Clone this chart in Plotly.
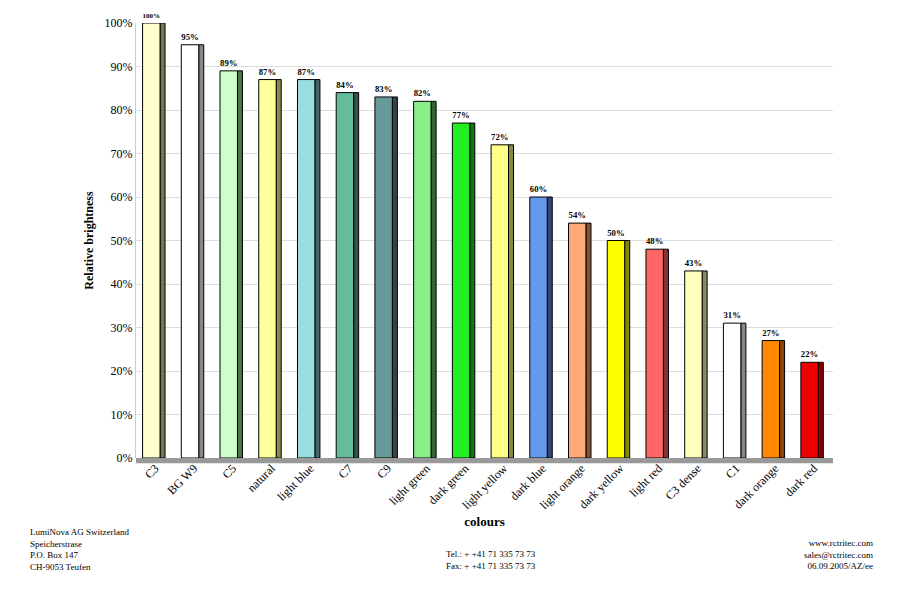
import plotly.graph_objects as go

categories = ["C3","BG W9","C5","natural","light blue","C7","C9","light green","dark green","light yellow",
              "dark blue","light orange","dark yellow","light red","C3 dense","C1","dark orange","dark red"]
values = [100,95,89,87,87,84,83,82,77,72,60,54,50,48,43,31,27,22]
colors = ["#ffffcc","#ffffff","#ccffcc","#ffff99","#99dddd","#66bb99","#669999","#88ee88","#22ee22","#ffff88",
          "#6699ee","#ffaa77","#ffff00","#ff6666","#ffffbb","#ffffff","#ff8800","#ee0000"]
side = ["#777755","#888888","#447744","#888844","#446666","#335544","#334444","#336633","#117711","#888844",
        "#334477","#885533","#888800","#883333","#888866","#888888","#884400","#880000"]

fig = go.Figure()
fig.add_bar(x=categories, y=values, width=0.13, offset=0.12, marker=dict(color=side, line=dict(color="black", width=1)),
            hoverinfo="skip", showlegend=False)
fig.add_bar(x=categories, y=values, width=0.45, offset=-0.33, marker=dict(color=colors, line=dict(color="black", width=1)),
            text=[f"<b>{v}%</b>" for v in values], textposition="outside", cliponaxis=False,
            textfont=dict(size=9, family="Liberation Serif", color="black"), showlegend=False)
fig.update_layout(
    width=900, height=600, barmode="overlay", plot_bgcolor="white", paper_bgcolor="white",
    margin=dict(l=128, r=75, t=15, b=150),
    font=dict(family="Liberation Serif", color="black"),
    xaxis=dict(tickangle=-45, tickfont=dict(size=12), showline=False, automargin=False,
               title=dict(text="<b>colours</b>", font=dict(size=13), standoff=5)),
    yaxis=dict(range=[0,100], dtick=10, ticksuffix="%", showgrid=True, gridcolor="#dddddd", automargin=False,
               tickfont=dict(size=12), title=dict(text="<b>Relative brightness</b>", font=dict(size=12), standoff=8),
               showline=True, linecolor="#cccccc"),
)
fig.add_shape(type="rect", xref="paper", yref="paper", x0=0, x1=1, y0=-0.012, y1=0, fillcolor="#999999", line_width=0)
txt = dict(font=dict(size=9, family="Liberation Serif"), showarrow=False, xref="paper", yref="paper")
left = ["LumiNova AG Switzerland","Speicherstrase","P.O. Box 147","CH-9053 Teufen"]
mid = ["Tel.: + +41 71 335 73 73","Fax: + +41 71 335 73 73"]
right = ["www.rctritec.com","sales@rctritec.com","06.09.2005/AZ/ee"]
fig.add_annotation(x=-0.155, y=-0.155, xanchor="left", yanchor="top", align="left", text="<br>".join(left), **txt)
fig.add_annotation(x=0.51, y=-0.205, xanchor="center", yanchor="top", align="center", text="<br>".join(mid), **txt)
fig.add_annotation(x=1.06, y=-0.18, xanchor="right", yanchor="top", align="right", text="<br>".join(right), **txt)
fig.write_html("out.html")
